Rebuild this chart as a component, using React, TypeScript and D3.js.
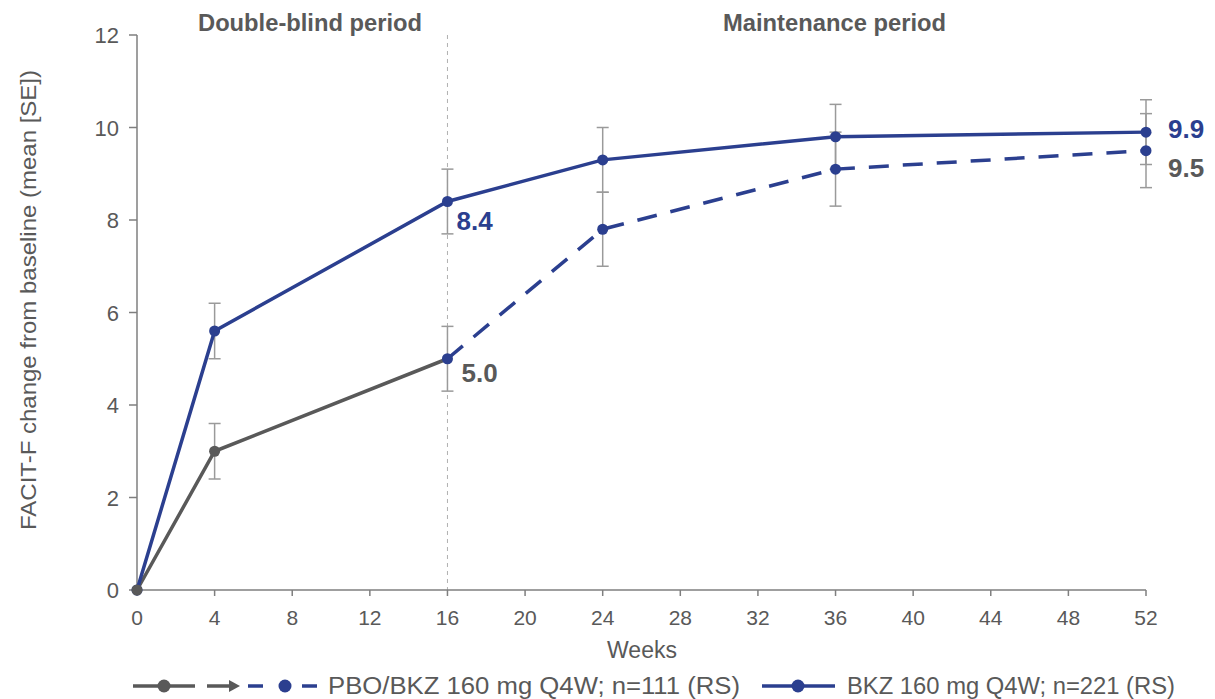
import React from 'react';
import * as d3 from 'd3';

// weeks and values
const weeks = [0, 4, 16, 24, 36, 52];
const bkzMean = [0, 5.6, 8.4, 9.3, 9.8, 9.9];
const bkzSE = [0, 0.6, 0.7, 0.7, 0.7, 0.7];

const pboWeeks = [0, 4, 16];
const pboMean = [0, 3.0, 5.0];
const pboSE = [0, 0.6, 0.7];

const switchWeeks = [16, 24, 36, 52];
const switchMean = [5.0, 7.8, 9.1, 9.5];
const switchSE = [0.7, 0.8, 0.8, 0.8];

const xTicks = [0, 4, 8, 12, 16, 20, 24, 28, 32, 36, 40, 44, 48, 52];
const yTicks = [0, 2, 4, 6, 8, 10, 12];

const BLUE = '#2b3f8f';
const GRAY = '#595959';
const ERR = '#9a9a9a';
const AXIS = '#7f7f7f';
const FONT = '"Liberation Sans", Arial, sans-serif';

const App: React.FC = () => {
  const width = 1215;
  const height = 699;

  const x = d3.scaleLinear().domain([0, 52]).range([137, 1146]);
  const y = d3.scaleLinear().domain([0, 12]).range([590, 35]);

  const line = d3.line<[number, number]>()
    .x(d => x(d[0]))
    .y(d => y(d[1]));

  const zip = (w: number[], v: number[]) => w.map((d, i) => [d, v[i]] as [number, number]);

  const errorBars = (w: number[], v: number[], se: number[], key: string) =>
    w.map((d, i) => se[i] > 0 && (
      <g key={key + i} stroke={ERR} strokeWidth={1.5}>
        <line x1={x(d)} x2={x(d)} y1={y(v[i] - se[i])} y2={y(v[i] + se[i])} />
        <line x1={x(d) - 6} x2={x(d) + 6} y1={y(v[i] - se[i])} y2={y(v[i] - se[i])} />
        <line x1={x(d) - 6} x2={x(d) + 6} y1={y(v[i] + se[i])} y2={y(v[i] + se[i])} />
      </g>
    ));

  return (
    <svg width={width} height={height} style={{ position: 'absolute', left: 0, top: 0, background: '#fff' }}>
      {/* period headers (condensed bold in the original) */}
      <text x={198} y={31} textLength={224} lengthAdjust="spacingAndGlyphs" fontFamily={FONT} fontWeight="bold" fontSize={24} fill={GRAY}>Double-blind period</text>
      <text x={723} y={31} textLength={223} lengthAdjust="spacingAndGlyphs" fontFamily={FONT} fontWeight="bold" fontSize={24} fill={GRAY}>Maintenance period</text>

      {/* week 16 divider */}
      <line x1={x(16)} x2={x(16)} y1={y(12)} y2={y(0)} stroke="#b0b0b0" strokeWidth={1} strokeDasharray="4,4" />

      {/* y axis */}
      <line x1={x(0)} x2={x(0)} y1={y(12)} y2={y(0)} stroke={AXIS} strokeWidth={1.5} />
      {yTicks.map(t => (
        <g key={'y' + t}>
          <line x1={x(0) - 8} x2={x(0)} y1={y(t)} y2={y(t)} stroke={AXIS} strokeWidth={1.5} />
          <text x={x(0) - 10 - 8} y={y(t) + 8} textAnchor="end" fontFamily={FONT} fontSize={22} fill={GRAY}>{t}</text>
        </g>
      ))}

      {/* x axis */}
      <line x1={x(0)} x2={x(52)} y1={y(0)} y2={y(0)} stroke={AXIS} strokeWidth={1.5} />
      {xTicks.map(t => (
        <g key={'x' + t}>
          <line x1={x(t)} x2={x(t)} y1={y(0)} y2={y(0) + 6} stroke={AXIS} strokeWidth={1.5} />
          <text x={x(t)} y={y(0) + 35} textAnchor="middle" fontFamily={FONT} fontSize={21} fill={GRAY}>{t}</text>
        </g>
      ))}
      <text x={642} y={658} textAnchor="middle" fontFamily={FONT} fontSize={23} fill={GRAY}>Weeks</text>
      <text transform={`translate(36,300) rotate(-90)`} textAnchor="middle" textLength={460} lengthAdjust="spacingAndGlyphs" fontFamily={FONT} fontSize={22} fill={GRAY}>
        FACIT-F change from baseline (mean [SE])
      </text>

      {/* error bars */}
      {errorBars(weeks, bkzMean, bkzSE, 'b')}
      {errorBars(pboWeeks, pboMean, pboSE, 'p')}
      {errorBars(switchWeeks.slice(1), switchMean.slice(1), switchSE.slice(1), 's')}

      {/* series */}
      <path d={line(zip(switchWeeks, switchMean)) || ''} fill="none" stroke={BLUE} strokeWidth={3.5} strokeDasharray="20,14" />
      <path d={line(zip(pboWeeks, pboMean)) || ''} fill="none" stroke={GRAY} strokeWidth={3.5} />
      <path d={line(zip(weeks, bkzMean)) || ''} fill="none" stroke={BLUE} strokeWidth={3.5} />

      {switchWeeks.slice(1).map((d, i) => (
        <circle key={'sc' + i} cx={x(d)} cy={y(switchMean[i + 1])} r={5.5} fill={BLUE} />
      ))}
      {weeks.map((d, i) => (
        <circle key={'bc' + i} cx={x(d)} cy={y(bkzMean[i])} r={5.5} fill={BLUE} />
      ))}
      {pboWeeks.map((d, i) => (
        <circle key={'pc' + i} cx={x(d)} cy={y(pboMean[i])} r={5.5} fill={i === 2 ? BLUE : GRAY} />
      ))}

      {/* value labels */}
      <text x={x(16) + 9} y={y(8.4) + 28} fontFamily={FONT} fontWeight="bold" fontSize={26} fill={BLUE}>8.4</text>
      <text x={x(16) + 14} y={y(5.0) + 23} fontFamily={FONT} fontWeight="bold" fontSize={26} fill={GRAY}>5.0</text>
      <text x={x(52) + 22} y={y(9.9) + 6} fontFamily={FONT} fontWeight="bold" fontSize={26} fill={BLUE}>9.9</text>
      <text x={x(52) + 22} y={y(9.5) + 26} fontFamily={FONT} fontWeight="bold" fontSize={26} fill={GRAY}>9.5</text>

      {/* legend */}
      <g>
        <line x1={133} x2={195} y1={686} y2={686} stroke={GRAY} strokeWidth={3.5} />
        <circle cx={164} cy={686} r={6.5} fill={GRAY} />
        <line x1={207} x2={232} y1={686} y2={686} stroke={GRAY} strokeWidth={3.5} />
        <path d="M229,680 L240,686 L229,692 Z" fill={GRAY} />
        <line x1={248} x2={263} y1={686} y2={686} stroke={BLUE} strokeWidth={3.5} />
        <circle cx={285} cy={686} r={6.5} fill={BLUE} />
        <line x1={302} x2={317} y1={686} y2={686} stroke={BLUE} strokeWidth={3.5} />
        <text x={328} y={694} textLength={412} lengthAdjust="spacingAndGlyphs" fontFamily={FONT} fontSize={23} fill={GRAY}>PBO/BKZ 160 mg Q4W; n=111 (RS)</text>
        <line x1={762} x2={835} y1={686} y2={686} stroke={BLUE} strokeWidth={3.5} />
        <circle cx={798} cy={686} r={6.5} fill={BLUE} />
        <text x={847} y={694} textLength={328} lengthAdjust="spacingAndGlyphs" fontFamily={FONT} fontSize={23} fill={GRAY}>BKZ 160 mg Q4W; n=221 (RS)</text>
      </g>
    </svg>
  );
};

export default App;
